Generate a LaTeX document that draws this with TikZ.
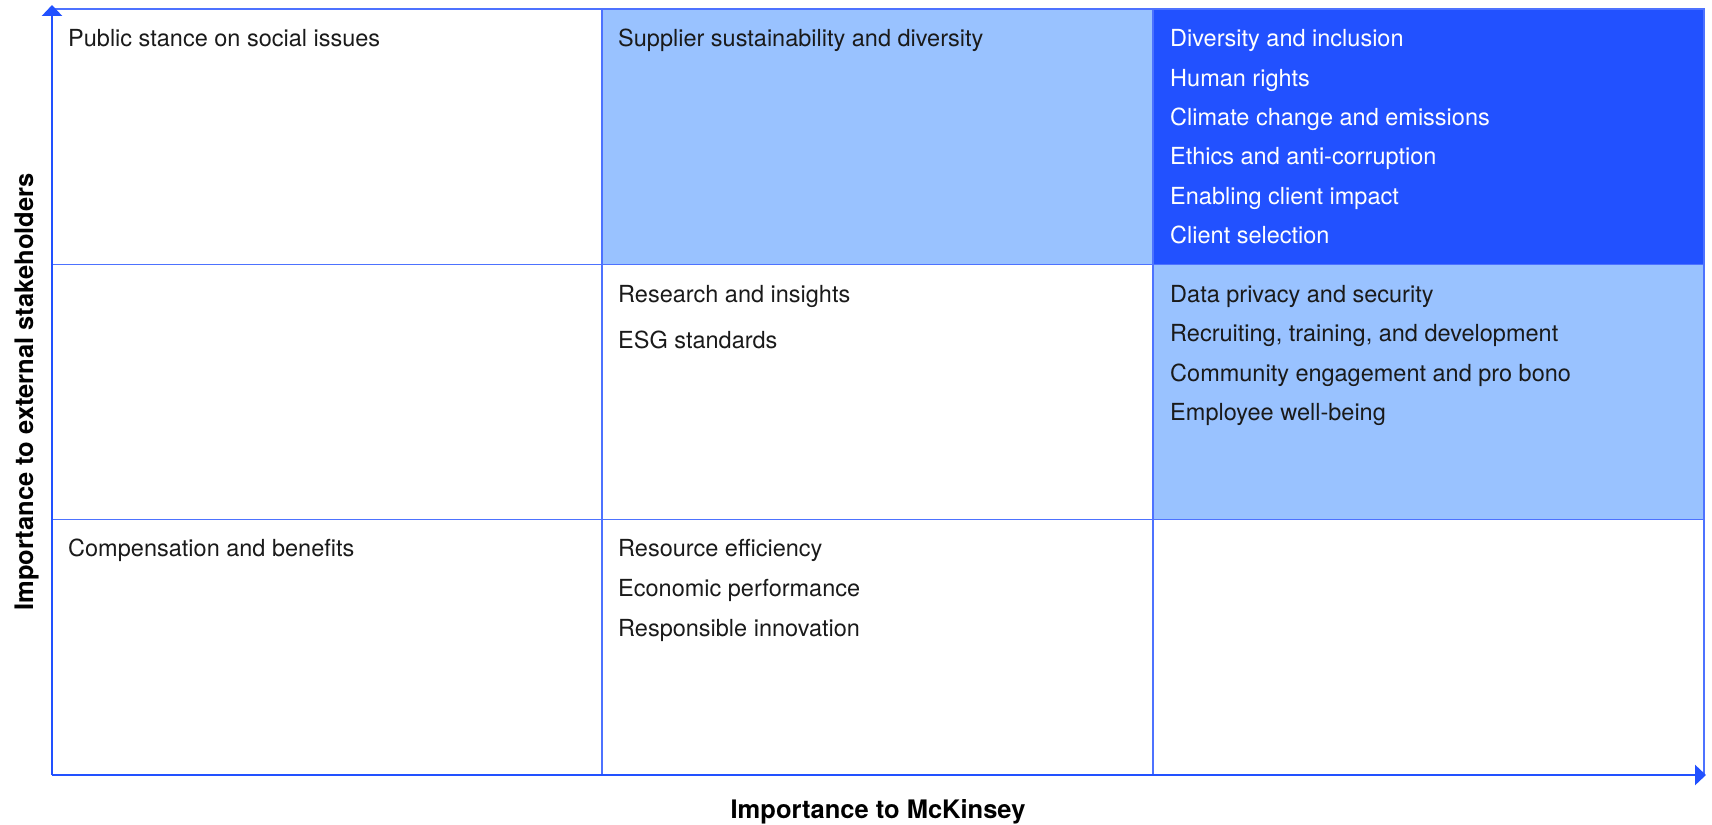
\documentclass[tikz,border=0pt]{standalone}
\usepackage{fontspec}
\setmainfont{TeX Gyre Heros}
\usetikzlibrary{arrows.meta}
\definecolor{mckblue}{HTML}{2251FF}
\definecolor{lightcell}{HTML}{99C2FF}
\definecolor{gridblue}{HTML}{4D72FF}
\definecolor{bodytext}{HTML}{1A1A1A}
\tikzset{
  cell/.style={draw=none, minimum width=550pt, minimum height=255.3pt, inner sep=0pt, outer sep=0pt, anchor=north west},
  item/.style={anchor=base west, inner sep=0pt, text=bodytext, font=\fontsize{23.5}{28}\selectfont},
  itemw/.style={item, text=white},
  gridline/.style={draw=gridblue, line width=1.1pt},
  axisline/.style={draw=mckblue, line width=2.6pt, -{Triangle[length=11pt,width=20pt]}},
  axislabel/.style={inner sep=0pt, text=black, font=\bfseries\fontsize{25.5}{30}\selectfont}
}
\begin{document}
\begin{tikzpicture}[x=1pt,y=-1pt]
\useasboundingbox (0,0) rectangle (1712,824);
% cells
\node[cell] (c11) at (52,9) {};
\node[cell, fill=lightcell] (c12) at (603,9) {};
\node[cell, fill=mckblue, minimum width=551pt] (c13) at (1153,9) {};
\node[cell] (c21) at (52,264.3) {};
\node[cell] (c22) at (603,264.3) {};
\node[cell, fill=lightcell, minimum width=551pt] (c23) at (1153,264.3) {};
\node[cell] (c31) at (52,519.6) {};
\node[cell] (c32) at (603,519.6) {};
\node[cell, minimum width=551pt] (c33) at (1153,519.6) {};
% grid lines
\draw[gridline] (c11.north west) -- (c13.north east) -- (c33.south east);
\draw[gridline] (c11.north east) -- (c31.south east);
\draw[gridline] (c12.north east) -- (c32.south east);
\draw[gridline] (c21.north west) -- (c23.north east);
\draw[gridline] (c31.north west) -- (c33.north east);
% axes
\coordinate (origin) at (52,775);
\coordinate (ytip) at (52,5);
\coordinate (xtip) at (1706,775);
\draw[axisline] (origin) -- (ytip);
\draw[axisline] (origin) -- (xtip);
% texts top row
\node[item] (t1) at (68,47) {Public stance on social issues};
\node[item] (t2) at (618,47) {Supplier sustainability and diversity};
\node[itemw] (t3a) at (1170,47) {Diversity and inclusion};
\node[itemw] (t3b) at (1170,86.3) {Human rights};
\node[itemw] (t3c) at (1170,125.6) {Climate change and emissions};
\node[itemw] (t3d) at (1170,164.9) {Ethics and anti-corruption};
\node[itemw] (t3e) at (1170,204.2) {Enabling client impact};
\node[itemw] (t3f) at (1170,243.5) {Client selection};
% middle row
\node[item] (m2a) at (618,302) {Research and insights};
\node[item] (m2b) at (618,348) {ESG standards};
\node[item] (m3a) at (1170,302) {Data privacy and security};
\node[item] (m3b) at (1170,341.5) {Recruiting, training, and development};
\node[item] (m3c) at (1170,381) {Community engagement and pro bono};
\node[item] (m3d) at (1170,420.5) {Employee well-being};
% bottom row
\node[item] (b1) at (68,556.5) {Compensation and benefits};
\node[item] (b2a) at (618,556.5) {Resource efficiency};
\node[item] (b2b) at (618,596.5) {Economic performance};
\node[item] (b2c) at (618,636) {Responsible innovation};
% axis labels
\node[axislabel, anchor=base] (xl) at (878,818) {Importance to McKinsey};
\node[axislabel, rotate=90, anchor=base] (yl) at (33,392) {Importance to external stakeholders};
\end{tikzpicture}
\end{document}
